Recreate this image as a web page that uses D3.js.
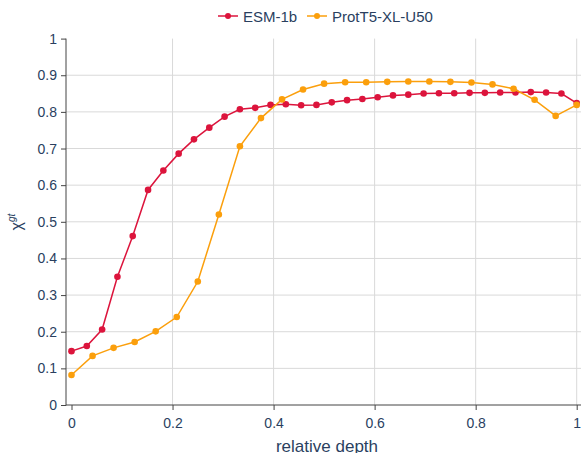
<!DOCTYPE html>
<html>
<head>
<meta charset="utf-8">
<script src="https://cdn.jsdelivr.net/npm/d3@7"></script>
<style>
  body { margin: 0; background: #fff; }
  svg { font-family: "Liberation Sans", Arial, sans-serif; }
</style>
</head>
<body>
<div id="graph"></div>
<script>
var seriesNames = ["ESM-1b", "ProtT5-XL-U50"];
var seriesColors = ["#dc143c", "#fb9f0c"];

// ESM-1b: 34 points, evenly spaced depth i/33
var esmValues = [0.147, 0.161, 0.206, 0.350, 0.461, 0.587, 0.640, 0.686, 0.725, 0.757,
                 0.787, 0.807, 0.811, 0.819, 0.821, 0.818, 0.819, 0.826, 0.832, 0.835,
                 0.840, 0.845, 0.847, 0.850, 0.851, 0.851, 0.852, 0.852, 0.853, 0.853,
                 0.854, 0.853, 0.850, 0.824];
// ProtT5-XL-U50: 25 points, evenly spaced depth i/24
var protValues = [0.082, 0.134, 0.156, 0.172, 0.201, 0.240, 0.337, 0.520, 0.706, 0.783,
                  0.834, 0.861, 0.877, 0.881, 0.881, 0.882, 0.883, 0.883, 0.882, 0.880,
                  0.875, 0.863, 0.833, 0.789, 0.819];

var xTicks = [0, 0.2, 0.4, 0.6, 0.8, 1];
var yTicks = [0, 0.1, 0.2, 0.3, 0.4, 0.5, 0.6, 0.7, 0.8, 0.9, 1];

function toPoints(vals) {
    return vals.map(function(v, i) { return { x: i / (vals.length - 1), y: v }; });
}
var series = [toPoints(esmValues), toPoints(protValues)];

var width = 581, height = 453;
var left = 66, right = 581;
var x = d3.scaleLinear().domain([0, 1]).range([71.5, 576.7]);
var y = d3.scaleLinear().domain([0, 1]).range([405, 38.6]);

var svg = d3.select("#graph").append("svg")
    .attr("width", width)
    .attr("height", height);

var textColor = "#2a3f5f";

// grid
svg.append("g").selectAll("line")
    .data(yTicks.filter(function(d) { return d > 0 && d < 1; }))
    .enter().append("line")
    .attr("x1", left).attr("x2", right)
    .attr("y1", function(d) { return y(d); })
    .attr("y2", function(d) { return y(d); })
    .attr("stroke", "#d9d9d9").attr("stroke-width", 1);

svg.append("g").selectAll("line")
    .data(xTicks.filter(function(d) { return d > 0; }))
    .enter().append("line")
    .attr("y1", y(1)).attr("y2", y(0))
    .attr("x1", function(d) { return x(d); })
    .attr("x2", function(d) { return x(d); })
    .attr("stroke", "#d9d9d9").attr("stroke-width", 1);

// axes
var xAxis = svg.append("g")
    .attr("transform", "translate(0," + y(0) + ")")
    .call(d3.axisBottom(x).tickValues(xTicks).tickSize(5).tickSizeOuter(0)
        .tickFormat(d3.format("~g")));
xAxis.select(".domain").remove();
xAxis.append("line").attr("x1", left).attr("x2", right)
    .attr("stroke", "#444").attr("stroke-width", 1);

var yAxis = svg.append("g")
    .attr("transform", "translate(" + left + ",0)")
    .call(d3.axisLeft(y).tickValues(yTicks).tickSize(5).tickSizeOuter(0)
        .tickFormat(d3.format("~g")));
yAxis.select(".domain").remove();
yAxis.append("line").attr("y1", y(1)).attr("y2", y(0) + 0.5)
    .attr("stroke", "#444").attr("stroke-width", 1);

svg.selectAll(".tick line").attr("stroke", "#444");
svg.selectAll(".tick text")
    .attr("fill", textColor)
    .style("font-size", "14px")
    .style("font-family", "\"Liberation Sans\", Arial, sans-serif");
xAxis.selectAll(".tick text").attr("dy", "1.1em");
yAxis.selectAll(".tick text").attr("dx", "-1px");

// axis titles
svg.append("text")
    .attr("x", 327).attr("y", 452)
    .attr("text-anchor", "middle")
    .attr("fill", textColor)
    .style("font-size", "17px")
    .text("relative depth");

var yTitle = svg.append("text")
    .attr("transform", "translate(22,222) rotate(-90)")
    .attr("text-anchor", "middle")
    .attr("fill", textColor)
    .style("font-size", "16px");
yTitle.append("tspan").text("χ");
yTitle.append("tspan").attr("dy", "-7").style("font-size", "10px")
    .style("font-style", "italic").text("gt");

// lines and markers
var line = d3.line()
    .x(function(d) { return x(d.x); })
    .y(function(d) { return y(d.y); });

series.forEach(function(pts, k) {
    var g = svg.append("g");
    g.append("path")
        .datum(pts)
        .attr("d", line)
        .attr("fill", "none")
        .attr("stroke", seriesColors[k])
        .attr("stroke-width", 1.5);
    g.selectAll("circle")
        .data(pts)
        .enter().append("circle")
        .attr("cx", function(d) { return x(d.x); })
        .attr("cy", function(d) { return y(d.y); })
        .attr("r", 3.3)
        .attr("fill", seriesColors[k]);
});

// legend
var legendX = [218, 307];
var legend = svg.append("g");
seriesNames.forEach(function(name, k) {
    var lx = legendX[k];
    legend.append("line")
        .attr("x1", lx).attr("x2", lx + 20)
        .attr("y1", 16).attr("y2", 16)
        .attr("stroke", seriesColors[k]).attr("stroke-width", 1.5);
    legend.append("circle")
        .attr("cx", lx + 10).attr("cy", 16).attr("r", 3)
        .attr("fill", seriesColors[k]);
    legend.append("text")
        .attr("x", lx + 25).attr("y", 21.5)
        .attr("fill", textColor)
        .style("font-size", "15px")
        .text(name);
});
</script>
</body>
</html>
